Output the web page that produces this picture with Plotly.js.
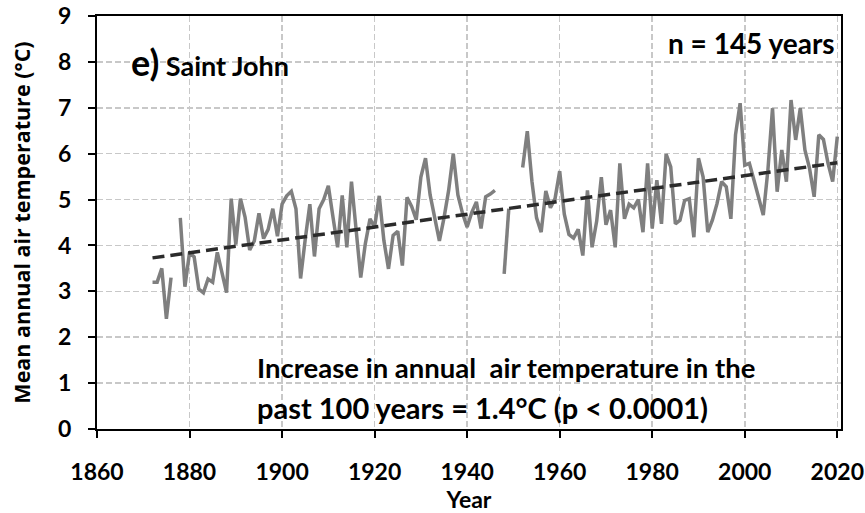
<!DOCTYPE html>
<html>
<head>
<meta charset="utf-8">
<script src="https://cdn.plot.ly/plotly-3.0.1.min.js"></script>
<style>
  html, body { margin: 0; padding: 0; background: #ffffff; }
  #chart { width: 865px; height: 513px; }
</style>
</head>
<body>
<div id="chart"></div>
<script>
// First year of the record; one value per year, null = missing year
const startYear = 1872;
const temps = [
  3.2, 3.2, 3.5, 2.4, 3.3, null, 4.6, 3.1,                    // 1872-1879
  3.85, 3.75, 3.05, 2.97, 3.27, 3.2, 3.85, 3.42, 2.97, 5.02,  // 1880-1889
  4.02, 5.02, 4.62, 3.9, 4.1, 4.7, 4.15, 4.35, 4.8, 4.2,      // 1890-1899
  4.9, 5.08, 5.18, 4.8, 3.28, 4.13, 4.9, 3.76, 4.8, 5.0,      // 1900-1909
  5.3, 4.62, 3.96, 5.09, 3.96, 5.39, 4.3, 3.3, 4.04, 4.58,    // 1910-1919
  4.4, 5.08, 4.11, 3.49, 4.22, 4.31, 3.56, 5.05, 4.85, 4.56,  // 1920-1929
  5.49, 5.9, 5.1, 4.6, 4.1, 4.6, 5.2, 6.0, 5.1, 4.7,          // 1930-1939
  4.4, 4.72, 4.95, 4.37, 5.06, 5.12, 5.2, null, 3.38, 4.8,    // 1940-1949
  null, null, 5.7, 6.49, 5.4, 4.6, 4.29, 5.19, 4.82, 5.02,    // 1950-1959
  5.62, 4.68, 4.24, 4.16, 4.35, 3.78, 5.2, 3.96, 4.53, 5.49,  // 1960-1969
  4.45, 4.77, 3.96, 5.79, 4.58, 4.9, 4.82, 5.0, 4.29, 5.79,   // 1970-1979
  4.37, 5.42, 4.47, 5.99, 5.71, 4.47, 4.55, 4.98, 5.02, 4.18, // 1980-1989
  5.9, 5.49, 4.29, 4.55, 4.91, 5.39, 5.28, 4.58, 6.41, 7.1,   // 1990-1999
  5.75, 5.79, 5.42, 5.06, 4.66, 5.64, 6.99, 5.17, 6.08, 5.39, // 2000-2009
  7.17, 6.3, 6.99, 6.08, 5.68, 5.06, 6.41, 6.31, 5.79, 5.39,  // 2010-2019
  6.37                                                        // 2020
];
const xTickVals = [1860, 1880, 1900, 1920, 1940, 1960, 1980, 2000, 2020];
const yTickVals = [0, 1, 2, 3, 4, 5, 6, 7, 8, 9];

const years = temps.map((_, i) => startYear + i);

// least-squares linear trend over the observed years
const obs = years.map((y, i) => [y, temps[i]]).filter(p => p[1] !== null);
const n = obs.length;
const mx = obs.reduce((s, p) => s + p[0], 0) / n;
const my = obs.reduce((s, p) => s + p[1], 0) / n;
let sxy = 0, sxx = 0;
obs.forEach(p => { sxy += (p[0] - mx) * (p[1] - my); sxx += (p[0] - mx) * (p[0] - mx); });
const slope = sxy / sxx;
const icpt = my - slope * mx;
const trendX = [years[0], years[years.length - 1]];
const trendY = trendX.map(x => icpt + slope * x);

const calib = 'Lato, "Liberation Sans", sans-serif';

const traces = [
  {
    x: years, y: temps, type: 'scatter', mode: 'lines',
    connectgaps: false,
    line: { color: '#7f7f7f', width: 3.5 },
    hoverinfo: 'skip'
  },
  {
    x: trendX, y: trendY, type: 'scatter', mode: 'lines',
    line: { color: '#2b2b2b', width: 3.5, dash: '12px,6px' },
    hoverinfo: 'skip'
  }
];

const layout = {
  width: 865, height: 513,
  margin: { l: 97, r: 24, t: 16, b: 84 },
  paper_bgcolor: '#ffffff', plot_bgcolor: '#ffffff',
  showlegend: false,
  font: { family: calib, color: '#000000' },
  xaxis: {
    range: [1860, 2020.8],
    tickvals: xTickVals,
    ticktext: xTickVals.map(String),
    ticks: 'outside', ticklen: 7, tickwidth: 2, tickcolor: '#000000',
    ticklabelstandoff: 14,
    tickfont: { family: calib, size: 23, color: '#000000', weight: 'bold' },
    showline: true, linecolor: '#000000', linewidth: 2, mirror: true,
    showgrid: true, gridcolor: '#c8c8c8', gridwidth: 1.5, griddash: '6px,3px',
    zeroline: false,
    title: { text: 'Year', font: { family: calib, size: 23, color: '#000000', weight: 'bold' }, standoff: 10 }
  },
  yaxis: {
    range: [0, 9],
    tickvals: yTickVals,
    ticktext: yTickVals.map(String),
    ticks: 'outside', ticklen: 7, tickwidth: 2, tickcolor: '#000000',
    ticklabelstandoff: 12,
    tickfont: { family: calib, size: 23, color: '#000000', weight: 'bold' },
    showline: true, linecolor: '#000000', linewidth: 2, mirror: true,
    showgrid: true, gridcolor: '#c8c8c8', gridwidth: 1.5, griddash: '6px,3px',
    zeroline: false,
    title: { text: 'Mean annual air temperature (°C)', font: { family: '"Open Sans", sans-serif', size: 21.5, color: '#000000', weight: 'bold' }, standoff: 22 }
  },
  annotations: [
    {
      x: 1867.0, y: 8.0, xref: 'x', yref: 'y', xanchor: 'left', yanchor: 'middle',
      text: '<span style="font-size:36px">e)</span> Saint John',
      showarrow: false, font: { family: calib, size: 27, color: '#000000', weight: 'bold' }
    },
    {
      x: 2020, y: 8.41, xref: 'x', yref: 'y', xanchor: 'right', yanchor: 'middle',
      text: 'n = 145 years',
      showarrow: false, font: { family: calib, size: 28, color: '#000000', weight: 'bold' }
    },
    {
      x: 1894.2, y: 1.33, xref: 'x', yref: 'y', xanchor: 'left', yanchor: 'middle',
      text: 'Increase in annual  air temperature in the',
      showarrow: false, font: { family: calib, size: 27.5, color: '#000000', weight: 'bold' }
    },
    {
      x: 1894.2, y: 0.46, xref: 'x', yref: 'y', xanchor: 'left', yanchor: 'middle',
      text: 'past 100 years = 1.4°C (p < 0.0001)',
      showarrow: false, font: { family: calib, size: 29, color: '#000000', weight: 'bold' }
    }
  ]
};

Plotly.newPlot('chart', traces, layout, { staticPlot: true, displayModeBar: false });
</script>
</body>
</html>
